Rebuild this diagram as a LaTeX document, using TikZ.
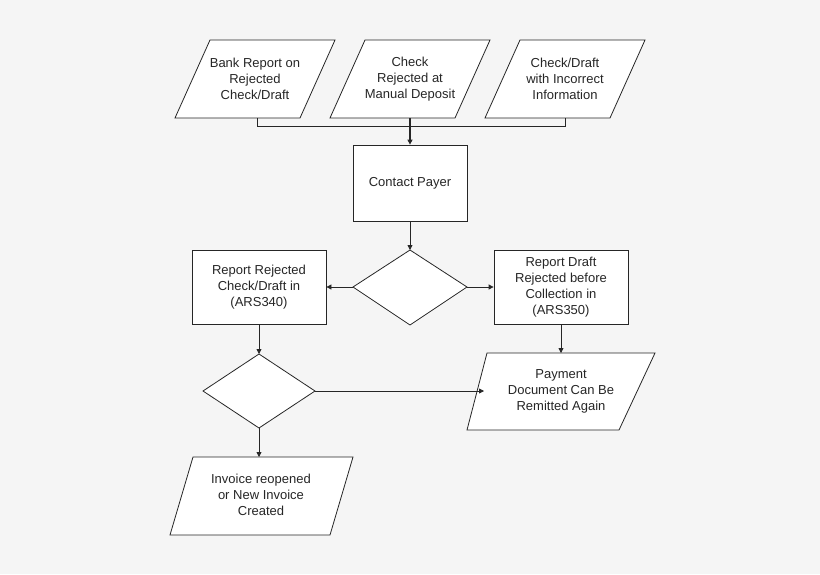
\documentclass[tikz,border=0pt]{standalone}
\usepackage{fontspec}
\setmainfont{Liberation Sans}
\usetikzlibrary{arrows.meta}
\begin{document}
\begin{tikzpicture}[x=1pt,y=-1pt,
  shp/.style={draw=black!85,fill=white,line width=0.8pt},
  txt/.style={align=center,font=\fontsize{13}{16}\selectfont,text=black!85},
  ln/.style={draw=black!85,line width=0.8pt},
  ar/.style={ln,-{Triangle[length=5pt,width=5pt]}}]
\fill[black!4] (0,0) rectangle (820,574);
\useasboundingbox (0,0) rectangle (820,574);
% top parallelograms
\draw[shp] (210,40)--(335,40)--(300,118)--(175,118)--cycle;
\node[txt] (p1) at (255,79) {Bank Report on\\Rejected\\Check/Draft};
\draw[shp] (365,40)--(490,40)--(455,118)--(330,118)--cycle;
\node[txt] (p2) at (410,79) {Check\\Rejected at\\Manual Deposit};
\draw[shp] (520,40)--(645,40)--(610,118)--(485,118)--cycle;
\node[txt] (p3) at (565,79) {Check/Draft\\with Incorrect\\Information};
\coordinate (b1) at (257,118); \coordinate (b2) at (410,118); \coordinate (b3) at (565,118);
\coordinate (j1) at (257,126); \coordinate (j3) at (565,126); \coordinate (j2) at (410,126);
% contact payer
\node[shp,txt,minimum width=114pt,minimum height=76pt] (cp) at (410,183) {Contact Payer};
\draw[ln] (b1)--(j1)--(j3)--(b3);
\draw[ar,line width=1.2pt] (b2)--(cp.north);
% diamond 1
\draw[shp] (410,250)--(467,287)--(410,325)--(353,287)--cycle;
\coordinate (d1t) at (410,250); \coordinate (d1l) at (353,287); \coordinate (d1r) at (467,287);
\draw[ar] (cp.south)--(d1t);
\node[shp,txt,minimum width=134pt,minimum height=74pt] (rl) at (259,287) {Report Rejected\\Check/Draft in\\(ARS340)};
\node[shp,txt,minimum width=134pt,minimum height=74pt,inner sep=1pt] (rr) at (561,287) {Report Draft\\Rejected before\\Collection in\\(ARS350)};
\draw[ar] (d1l)--(rl.east);
\draw[ar] (d1r)--(rr.west);
% diamond 2
\draw[shp] (259,354)--(315,391)--(259,428)--(203,391)--cycle;
\coordinate (d2t) at (259,354); \coordinate (d2r) at (315,391); \coordinate (d2b) at (259,428);
\draw[ar] (rl.south)--(d2t);
% payment
\draw[shp] (487,353)--(655,353)--(619,430)--(467,430)--cycle;
\node[txt] (pay) at (561,391) {Payment\\Document Can Be\\Remitted Again};
\coordinate (payt) at (561,353); \coordinate (payl) at (484,391);
\draw[ar] (rr.south)--(payt);
\draw[ar] (d2r)--(payl);
% invoice
\draw[shp] (193,457)--(353,457)--(330,535)--(170,535)--cycle;
\node[txt] (inv) at (261,495) {Invoice reopened\\or New Invoice\\Created};
\coordinate (invt) at (259,457);
\draw[ar] (d2b)--(invt);
\end{tikzpicture}
\end{document}
